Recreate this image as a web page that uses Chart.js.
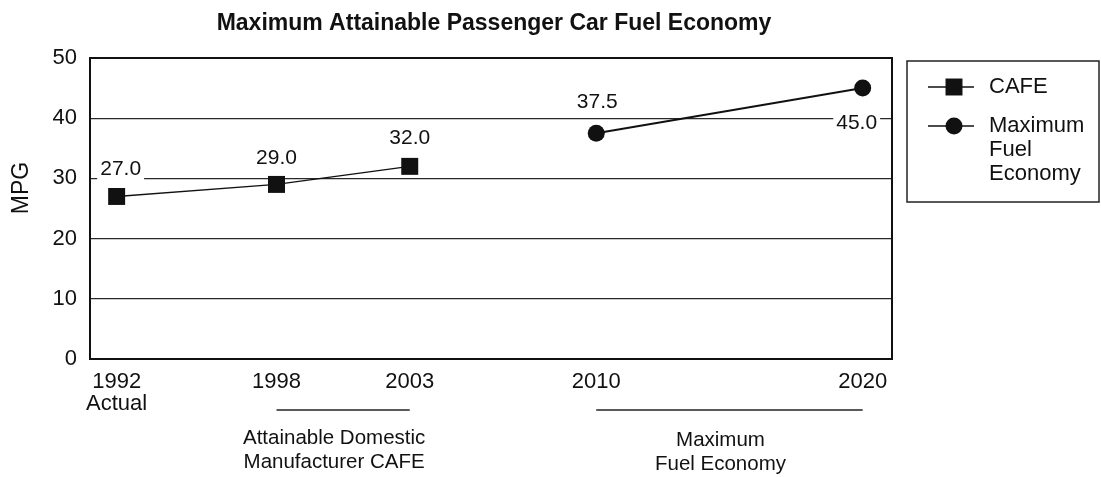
<!DOCTYPE html>
<html>
<head>
<meta charset="utf-8">
<title>Maximum Attainable Passenger Car Fuel Economy</title>
<script src="https://cdn.jsdelivr.net/npm/chart.js@4.4.0/dist/chart.umd.min.js"></script>
<style>
  html, body { margin: 0; padding: 0; background: #fff; }
  #wrap { width: 1101px; height: 477px; }
</style>
</head>
<body>
<div id="wrap"><canvas id="fuelChart" width="1101" height="477"></canvas></div>
<script>
// ---------- Data ----------
const tickYears = [1992, 1998, 2003, 2010, 2020];
const cafeYears = [1992, 1998, 2003];
const cafeMpg = [27.0, 29.0, 32.0];
const maxYears = [2010, 2020];
const maxMpg = [37.5, 45.0];
const yearNotes = { 1992: 'Actual' };
const groupSpans = [[1998, 2003], [2010, 2020]];
const groupLabels = [['Attainable Domestic', 'Manufacturer CAFE'], ['Maximum', 'Fuel Economy']];

const FONT = "'Liberation Sans', Arial, Helvetica, sans-serif";
const INK = '#111';

// ---------- Plugins ----------
// chart title over the plot, rotated MPG label at the left
const titlePlugin = {
  id: 'plotTitle',
  afterDraw(chart) {
    const { ctx, chartArea } = chart;
    ctx.save();
    ctx.font = `bold 23px ${FONT}`;
    ctx.fillStyle = INK;
    ctx.textAlign = 'center';
    ctx.textBaseline = 'middle';
    ctx.fillText('Maximum Attainable Passenger Car Fuel Economy', (chartArea.left + chartArea.right) / 2 + 3, 24);

    ctx.font = `23px ${FONT}`;
    ctx.translate(22, 188);
    ctx.rotate(-Math.PI / 2);
    ctx.fillText('MPG', 0, 0);
    ctx.restore();
  }
};

// black frame round the plot area
const framePlugin = {
  id: 'frame',
  beforeDatasetsDraw(chart) {
    const { ctx, chartArea: a } = chart;
    ctx.save();
    ctx.strokeStyle = INK;
    ctx.lineWidth = 2;
    ctx.strokeRect(a.left, a.top, a.right - a.left, a.bottom - a.top);
    ctx.restore();
  }
};

// value labels with a white box behind them
const valueLabels = {
  id: 'valueLabels',
  afterDatasetsDraw(chart, args, opts) {
    const { ctx } = chart;
    ctx.save();
    ctx.font = `21px ${FONT}`;
    ctx.textAlign = 'center';
    ctx.textBaseline = 'middle';
    chart.data.datasets.forEach((ds, di) => {
      const meta = chart.getDatasetMeta(di);
      meta.data.forEach((pt, i) => {
        const place = (opts.place[di] || [])[i] || { dx: 0, dy: -28 };
        const text = ds.data[i].y.toFixed(1);
        const x = pt.x + place.dx, y = pt.y + place.dy;
        const w = ctx.measureText(text).width;
        ctx.fillStyle = '#fff';
        ctx.fillRect(x - w / 2 - 3, y - 11, w + 6, 22);
        ctx.fillStyle = INK;
        ctx.fillText(text, x, y);
      });
    });
    ctx.restore();
  }
};

// boxed legend on the right, multi-line names
const sideLegend = {
  id: 'sideLegend',
  afterDraw(chart) {
    const { ctx, chartArea } = chart;
    const left = chartArea.right + 15, top = chartArea.top + 3;
    const right = chart.width - 2, bottom = 202;
    ctx.save();
    ctx.strokeStyle = '#222';
    ctx.lineWidth = 1.5;
    ctx.strokeRect(left, top, right - left, bottom - top);

    const rows = [top + 26, top + 65];
    ctx.font = `22px ${FONT}`;
    ctx.textAlign = 'left';
    ctx.textBaseline = 'middle';
    chart.data.datasets.forEach((ds, i) => {
      const y = rows[i];
      ctx.strokeStyle = INK;
      ctx.lineWidth = 1.5;
      ctx.beginPath();
      ctx.moveTo(left + 21, y);
      ctx.lineTo(left + 67, y);
      ctx.stroke();
      ctx.fillStyle = INK;
      Chart.helpers.drawPoint(ctx, {
        pointStyle: ds.pointStyle,
        radius: ds.pointRadius,
        borderWidth: 0
      }, left + 47, y);
      ctx.fillStyle = INK;
      const lines = ds.label.split('\n');
      lines.forEach((ln, k) => ctx.fillText(ln, left + 82, y + k * 24));
    });
    ctx.restore();
  }
};

// underlines and group captions below the x axis
const groupCaptions = {
  id: 'groupCaptions',
  afterDraw(chart) {
    const { ctx } = chart;
    const xs = chart.scales.x;
    ctx.save();
    ctx.strokeStyle = '#222';
    ctx.lineWidth = 1.3;
    ctx.fillStyle = INK;
    ctx.font = `20.5px ${FONT}`;
    ctx.textAlign = 'center';
    ctx.textBaseline = 'middle';
    groupSpans.forEach(([from, to], g) => {
      const x0 = xs.getPixelForValue(from), x1 = xs.getPixelForValue(to);
      ctx.beginPath();
      ctx.moveTo(x0, 410);
      ctx.lineTo(x1, 410);
      ctx.stroke();
      const cx = (x0 + x1) / 2 - 9;
      groupLabels[g].forEach((ln, k) => ctx.fillText(ln, cx, 438 + g * 2 + k * 24));
    });
    ctx.restore();
  }
};

// ---------- Chart ----------
const ctx = document.getElementById('fuelChart').getContext('2d');

new Chart(ctx, {
  type: 'line',
  data: {
    datasets: [
      {
        label: 'CAFE',
        data: cafeYears.map((x, i) => ({ x, y: cafeMpg[i] })),
        borderColor: INK,
        backgroundColor: INK,
        borderWidth: 1.4,
        pointStyle: 'rect',
        pointRadius: 12,
        pointBorderWidth: 0,
        pointBackgroundColor: INK
      },
      {
        label: 'Maximum\nFuel\nEconomy',
        data: maxYears.map((x, i) => ({ x, y: maxMpg[i] })),
        borderColor: INK,
        backgroundColor: INK,
        borderWidth: 2,
        pointStyle: 'circle',
        pointRadius: 8.5,
        pointBorderWidth: 0,
        pointBackgroundColor: INK
      }
    ]
  },
  options: {
    responsive: false,
    devicePixelRatio: 1,
    animation: false,
    layout: { padding: { top: 58, right: 209, bottom: 0, left: 0 } },
    scales: {
      x: {
        type: 'linear',
        min: 1991,
        max: 2021.1,
        afterBuildTicks: (s) => { s.ticks = tickYears.map(v => ({ value: v })); },
        afterFit: (s) => { s.height = 118; },
        grid: { display: false, drawTicks: false },
        border: { display: false },
        ticks: {
          autoSkip: false,
          maxRotation: 0,
          padding: 12,
          color: INK,
          font: { family: FONT, size: 22, lineHeight: 1.0 },
          callback: (v) => yearNotes[v] ? [String(v), yearNotes[v]] : String(v)
        }
      },
      y: {
        min: 0,
        max: 50,
        afterFit: (s) => { s.width = 90; },
        grid: { color: '#2a2a2a', lineWidth: 1.3, drawTicks: false },
        border: { display: false },
        ticks: {
          stepSize: 10,
          padding: 13,
          color: INK,
          font: { family: FONT, size: 22 }
        }
      }
    },
    plugins: {
      legend: { display: false },
      tooltip: { enabled: false },
      valueLabels: {
        place: [
          [{ dx: 4, dy: -27 }, { dx: 0, dy: -26 }, { dx: 0, dy: -28 }],
          [{ dx: 1, dy: -31 }, { dx: -6, dy: 35 }]
        ]
      }
    }
  },
  plugins: [framePlugin, valueLabels, titlePlugin, sideLegend, groupCaptions]
});
</script>
</body>
</html>
